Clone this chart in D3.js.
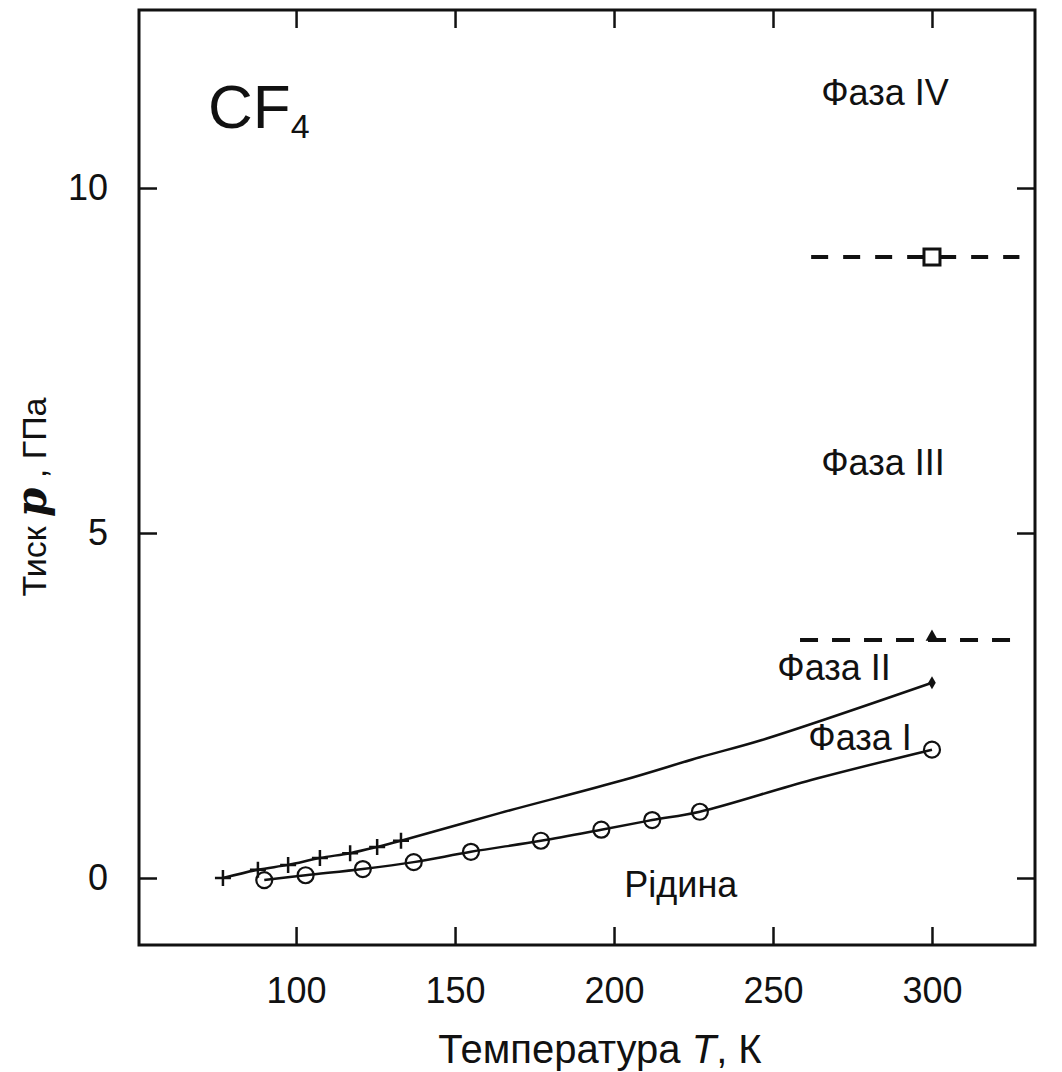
<!DOCTYPE html>
<html>
<head>
<meta charset="utf-8">
<script src="https://cdn.jsdelivr.net/npm/d3@7"></script>
<style>
  body { margin: 0; background: #fff; }
  text { font-family: "Liberation Sans", Arial, sans-serif; fill: #111; }
</style>
</head>
<body>
<div id="chart"></div>
<script>
// melting line (liquid / phase I), open circles
var meltT = [90, 103, 121, 137, 155, 177, 196, 212, 227, 300];
var meltP = [-0.03, 0.04, 0.13, 0.23, 0.38, 0.54, 0.70, 0.84, 0.96, 1.86];
// the drawn melting curve
var meltLineT = [90, 103, 121, 137, 155, 177, 196, 212, 227, 262, 300];
var meltLineP = [-0.03, 0.04, 0.13, 0.23, 0.38, 0.54, 0.70, 0.84, 0.96, 1.42, 1.86];

// phase I / II boundary, crosses
var t12T = [77, 88, 97.5, 107.5, 117, 125.5, 133];
var t12P = [0.0, 0.12, 0.19, 0.29, 0.36, 0.45, 0.54];
var t12LineT = [77, 88, 97.5, 107.5, 117, 125.5, 133, 164, 203, 227, 246.5, 300];
var t12LineP = [0.0, 0.12, 0.19, 0.29, 0.36, 0.45, 0.54, 0.94, 1.42, 1.75, 2.0, 2.83];
var t12EndT = [300];
var t12EndP = [2.83];

// phase II / III and III / IV boundaries (dashed)
var t23T = [258.5, 325];
var t23P = [3.45, 3.45];
var t34T = [262, 327.5];
var t34P = [9.0, 9.0];
var triT = [300], triP = [3.45];
var sqT = [300], sqP = [9.0];

var xTicks = [100, 150, 200, 250, 300];
var yTicks = [0, 5, 10];

var labels = [
  { text: "Фаза IV", T: 285.2, p: 11.2 },
  { text: "Фаза III", T: 284.6, p: 5.84 },
  { text: "Фаза II", T: 269.2, p: 2.87 },
  { text: "Фаза I", T: 277.4, p: 1.855 },
  { text: "Рідина", T: 221, p: -0.275 }
];

var width = 1062, height = 1072;
var mLeft = 139, mRight = 1035, mTop = 10, mBottom = 945;

var svg = d3.select("#chart").append("svg")
    .attr("width", width)
    .attr("height", height);

var x = d3.scaleLinear().domain([50.6, 332.4]).range([mLeft, mRight]);
var y = d3.scaleLinear().domain([-0.971, 12.58]).range([mBottom, mTop]);

function pts(ts, ps) {
  return ts.map(function(t, i) { return [t, ps[i]]; });
}

// axes with inward ticks
svg.append("g").attr("transform", "translate(0," + mBottom + ")")
    .call(d3.axisBottom(x).tickValues(xTicks).tickSizeInner(-18).tickSizeOuter(0).tickPadding(32));
svg.append("g").attr("transform", "translate(" + mLeft + ",0)")
    .call(d3.axisLeft(y).tickValues(yTicks).tickSizeInner(-18).tickSizeOuter(0).tickPadding(31));
svg.append("g").attr("transform", "translate(0," + mTop + ")")
    .call(d3.axisTop(x).tickValues(xTicks).tickSizeInner(-18).tickSizeOuter(0).tickFormat(""));
svg.append("g").attr("transform", "translate(" + mRight + ",0)")
    .call(d3.axisRight(y).tickValues(yTicks).tickSizeInner(-18).tickSizeOuter(0).tickFormat(""));

svg.selectAll(".domain").remove();
svg.selectAll(".tick line").attr("stroke", "#111").attr("stroke-width", 2.5);
svg.selectAll(".tick text")
    .attr("font-family", "Liberation Sans, Arial, sans-serif")
    .attr("font-size", 36)
    .attr("fill", "#111");

svg.append("rect")
    .attr("x", mLeft).attr("y", mTop)
    .attr("width", mRight - mLeft).attr("height", mBottom - mTop)
    .attr("fill", "none").attr("stroke", "#111").attr("stroke-width", 3);

var line = d3.line()
    .x(function(d) { return x(d[0]); })
    .y(function(d) { return y(d[1]); })
    .curve(d3.curveCatmullRom);
var straight = d3.line()
    .x(function(d) { return x(d[0]); })
    .y(function(d) { return y(d[1]); });

svg.append("path").datum(pts(meltLineT, meltLineP))
    .attr("d", line).attr("fill", "none").attr("stroke", "#111").attr("stroke-width", 2.5);
svg.append("path").datum(pts(t12LineT, t12LineP))
    .attr("d", line).attr("fill", "none").attr("stroke", "#111").attr("stroke-width", 2.5);

svg.append("path").datum(pts(t23T, t23P))
    .attr("d", straight)
    .attr("fill", "none").attr("stroke", "#111").attr("stroke-width", 4)
    .attr("stroke-dasharray", "18,14");
svg.append("path").datum(pts(t34T, t34P))
    .attr("d", straight)
    .attr("fill", "none").attr("stroke", "#111").attr("stroke-width", 4)
    .attr("stroke-dasharray", "17,15");

// markers
svg.selectAll(".melt").data(pts(meltT, meltP)).enter().append("circle")
    .attr("class", "melt")
    .attr("cx", function(d) { return x(d[0]); })
    .attr("cy", function(d) { return y(d[1]); })
    .attr("r", 8)
    .attr("fill", "none").attr("stroke", "#111").attr("stroke-width", 2.2);

svg.selectAll(".cross").data(pts(t12T, t12P)).enter().append("path")
    .attr("class", "cross")
    .attr("transform", function(d) { return "translate(" + x(d[0]) + "," + y(d[1]) + ")"; })
    .attr("fill", "none").attr("stroke", "#111").attr("stroke-width", 2.5)
    .attr("d", "M-8,0H8M0,-8V8");

svg.selectAll(".end").data(pts(t12EndT, t12EndP)).enter().append("path")
    .attr("class", "end")
    .attr("transform", function(d) { return "translate(" + x(d[0]) + "," + y(d[1]) + ")"; })
    .attr("d", d3.symbol().type(d3.symbolDiamond).size(50))
    .attr("fill", "#111");

svg.selectAll(".tri").data(pts(triT, triP)).enter().append("path")
    .attr("class", "tri")
    .attr("transform", function(d) { return "translate(" + x(d[0]) + "," + (y(d[1]) - 3) + ")"; })
    .attr("d", d3.symbol().type(d3.symbolTriangle).size(70))
    .attr("fill", "#111");

svg.selectAll(".sq").data(pts(sqT, sqP)).enter().append("rect")
    .attr("class", "sq")
    .attr("x", function(d) { return x(d[0]) - 8; })
    .attr("y", function(d) { return y(d[1]) - 8; })
    .attr("width", 16).attr("height", 16)
    .attr("fill", "#fff").attr("stroke", "#111").attr("stroke-width", 3);

// region labels
svg.selectAll(".lbl").data(labels).enter().append("text")
    .attr("class", "lbl")
    .attr("x", function(d) { return x(d.T); })
    .attr("y", function(d) { return y(d.p); })
    .attr("text-anchor", "middle")
    .attr("font-size", 36)
    .text(function(d) { return d.text; });

// formula
var cf = svg.append("text").attr("x", 208).attr("y", 128).attr("font-size", 62);
cf.append("tspan").text("CF");
cf.append("tspan").attr("font-size", 34).attr("dy", 10).text("4");

// axis titles
var xt = svg.append("text").attr("x", 600).attr("y", 1063)
    .attr("text-anchor", "middle").attr("font-size", 40);
xt.append("tspan").text("Температура ");
xt.append("tspan").attr("font-style", "italic").text("T");
xt.append("tspan").text(", К");

var yt = svg.append("text")
    .attr("transform", "translate(46,497) rotate(-90)")
    .attr("text-anchor", "middle").attr("font-size", 34);
yt.append("tspan").text("Тиск ");
yt.append("tspan").attr("font-family", "DejaVu Serif, serif").attr("font-style", "italic")
    .attr("font-weight", "bold").attr("font-size", 42).text("p");
yt.append("tspan").text(" , ГПа");
</script>
</body>
</html>
